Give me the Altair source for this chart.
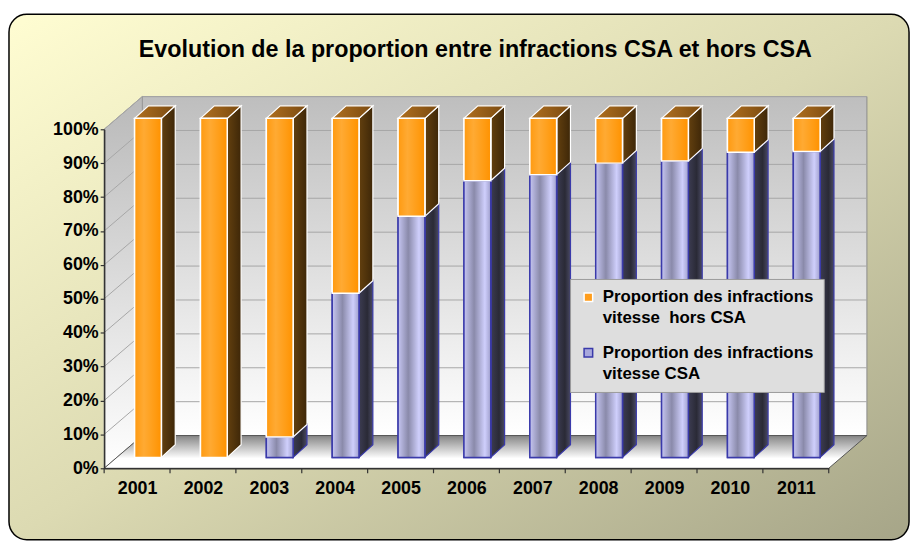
import altair as alt
import pandas as pd

# ---------------- data ----------------
years = [2001, 2002, 2003, 2004, 2005, 2006, 2007, 2008, 2009, 2010, 2011]
csa_pct = [0.0, 0.0, 6.0, 48.4, 71.1, 81.6, 83.4, 86.8, 87.4, 90.0, 90.2]
serie_hors = "Proportion des infractions|vitesse\u00a0\u00a0hors CSA"
serie_csa = "Proportion des infractions|vitesse CSA"
series = [serie_hors, serie_csa]
y_ticks = [0, 10, 20, 30, 40, 50, 60, 70, 80, 90, 100]
title_text = "Evolution de la proportion entre infractions CSA et hors CSA"

# ---------------- geometry (pixels) ----------------
FONT = "Liberation Sans"
W, H = 731, 342
PXY = W / len(years)      # px per year
PXP = H / 100.0           # px per percent
WALL_DX, WALL_DY = 38.5, 33.0
BAR_DX, BAR_DY = 11.0, 11.0
BAR_HW = 13.5
BAR_DEPTH_X, BAR_DEPTH_Y = 14.0, 12.7


def dx(p):
    return p / PXY


def dy(p):
    return p / PXP


X0, X1 = years[0] - 0.5, years[-1] + 0.5

# ---------------- tables ----------------
segs = []
for yr, c in zip(years, csa_pct):
    if c > 0:
        segs.append(dict(year=yr, serie=serie_csa, lo=0.0, hi=c))
    segs.append(dict(year=yr, serie=serie_hors, lo=c, hi=100.0))

front_rows, side_rows, top_rows = [], [], []
for s in segs:
    xa = s["year"] - dx(BAR_HW) + dx(BAR_DX)
    xb = s["year"] + dx(BAR_HW) + dx(BAR_DX)
    lo = s["lo"] + dy(BAR_DY)
    hi = s["hi"] + dy(BAR_DY)
    front_rows.append(dict(serie=s["serie"], x=xa, x2=xb, y=lo, y2=hi))
    key = f'{s["year"]}-{s["serie"]}'
    side_rows.append(dict(key=key, serie=s["serie"], x=xb, y=lo, y2=hi))
    side_rows.append(dict(key=key, serie=s["serie"], x=xb + dx(BAR_DEPTH_X),
                          y=lo + dy(BAR_DEPTH_Y), y2=hi + dy(BAR_DEPTH_Y)))
    if s["hi"] >= 100:
        ddx, ddy = dx(BAR_DEPTH_X), dy(BAR_DEPTH_Y)
        top_rows += [
            dict(key=key, x=xa, y=hi, y2=hi),
            dict(key=key, x=xa + ddx, y=hi, y2=hi + ddy),
            dict(key=key, x=xb, y=hi, y2=hi + ddy),
            dict(key=key, x=xb + ddx, y=hi + ddy, y2=hi + ddy),
        ]

front = pd.DataFrame(front_rows)
side = pd.DataFrame(side_rows)
top = pd.DataFrame(top_rows)

WX, WY = dx(WALL_DX), dy(WALL_DY)
back_wall = pd.DataFrame([dict(x=X0 + WX, x2=X1 + WX, y=WY, y2=100 + WY)])
back_grid = pd.DataFrame([dict(x=X0 + WX, x2=X1 + WX, y=v + WY) for v in y_ticks[1:]])
left_wall = pd.DataFrame([dict(x=X0, y=0, y2=100), dict(x=X0 + WX, y=WY, y2=100 + WY)])
left_grid = pd.DataFrame([dict(x=X0, x2=X0 + WX, y=v, y2=v + WY) for v in y_ticks[1:]])
floor = pd.DataFrame([
    dict(x=X0, y=0, y2=0),
    dict(x=X0 + WX, y=0, y2=WY),
    dict(x=X1, y=0, y2=WY),
    dict(x=X1 + WX, y=WY, y2=WY),
])
xticks = pd.DataFrame([dict(x=yr - 0.5, y=0) for yr in years + [years[-1] + 1]])

# ---------------- scales / axes ----------------
xs = alt.Scale(domain=[X0, X1], nice=False, zero=False)
ys = alt.Scale(domain=[0, 100], nice=False, zero=False)
x_axis = alt.Axis(values=years, format="d", ticks=False, grid=False, title=None,
                  labelFont=FONT, labelFontSize=18, labelFontWeight="bold",
                  labelColor="black", labelPadding=11, labelFlush=False,
                  domainColor="#333333", domainWidth=1.5, zindex=1)
y_axis = alt.Axis(values=y_ticks, labelExpr="datum.value + '%'", grid=False, title=None,
                  labelFont=FONT, labelFontSize=18, labelFontWeight="bold",
                  labelColor="black", labelPadding=2, tickSize=4, tickColor="#333333",
                  tickWidth=1.2, domainColor="#333333", domainWidth=1.5, zindex=1)


def X(f):
    return alt.X(f, type="quantitative", scale=xs, axis=x_axis)


def Y(f):
    return alt.Y(f, type="quantitative", scale=ys, axis=y_axis, stack=None)


def grad(stops, vertical=False):
    return alt.Gradient(
        gradient="linear",
        stops=[alt.GradientStop(color=c, offset=o) for o, c in stops],
        x1=0, y1=0, x2=0 if vertical else 1, y2=1 if vertical else 0,
    )


# ---------------- layers ----------------
bg = alt.Chart(pd.DataFrame({"a": [0]})).mark_rect(
    fill=alt.Gradient(gradient="linear",
                      stops=[alt.GradientStop(color="#FFFDD2", offset=0),
                             alt.GradientStop(color="#DCDAB2", offset=0.5),
                             alt.GradientStop(color="#A6A588", offset=1)],
                      x1=0, y1=0, x2=1, y2=1),
    stroke="black", strokeWidth=1.5, cornerRadius=18,
).encode(x=alt.value(-96), x2=alt.value(812), y=alt.value(-116), y2=alt.value(414))

back = alt.Chart(back_wall).mark_rect(
    fill=grad([(0, "#BEBEBE"), (1, "#FFFFFF")], vertical=True),
    stroke="#8C8C8C", strokeWidth=1,
).encode(x=X("x"), x2="x2", y=Y("y"), y2="y2")

bgrid = alt.Chart(back_grid).mark_rule(color="#A6A6A6", strokeWidth=1).encode(
    x=X("x"), x2="x2", y=Y("y"))

lwall = alt.Chart(left_wall).mark_area(
    fill=grad([(0, "#B9B9B9"), (1, "#FFFFFF")], vertical=True),
    stroke="#999999", strokeWidth=1,
).encode(x=X("x"), y=Y("y"), y2="y2")

lgrid = alt.Chart(left_grid).mark_rule(color="#A6A6A6", strokeWidth=1).encode(
    x=X("x"), x2="x2", y=Y("y"), y2="y2")

flr = alt.Chart(floor).mark_area(
    fill=grad([(0, "#858585"), (0.7, "#FFFFFF"), (1, "#FFFFFF")], vertical=True),
    stroke="#555555", strokeWidth=1,
).encode(x=X("x"), y=Y("y"), y2="y2")

ticks = alt.Chart(xticks).mark_rule(color="#333333", strokeWidth=1.2, y2Offset=5).encode(
    x=X("x"), y=Y("y"), y2="y")

side_csa = alt.Chart(side).transform_filter(alt.datum.serie == serie_csa).mark_area(
    fill=grad([(0, "#3C3C52"), (0.6, "#2A2A36"), (1, "#4A4A64")]),
    stroke="#3A3AAA", strokeWidth=1.2,
).encode(x=X("x"), y=Y("y"), y2="y2", detail="key:N")

side_hors = alt.Chart(side).transform_filter(alt.datum.serie == serie_hors).mark_area(
    fill=grad([(0, "#63400F"), (1, "#3E2708")]),
    stroke="white", strokeWidth=1.2,
).encode(x=X("x"), y=Y("y"), y2="y2", detail="key:N")

tops = alt.Chart(top).mark_area(
    fill=grad([(0, "#B07020"), (1, "#7A4A10")]),
    stroke="white", strokeWidth=1.2,
).encode(x=X("x"), y=Y("y"), y2="y2", detail="key:N")

legend = alt.Legend(
    orient="none", legendX=470, legendY=151, title=None,
    labelExpr="split(datum.label, '|')",
    labelFont=FONT, labelFontSize=17, labelFontWeight="bold", labelColor="black",
    labelLimit=400, labelOffset=6,
    symbolType="square", symbolSize=75, symbolStrokeWidth=1.5,
    padding=10, fillColor="#DEDEDE", strokeColor="#9A9A9A",
    rowPadding=17, zindex=2,
)

front_flat = alt.Chart(front).mark_rect(strokeWidth=1.5).encode(
    x=X("x"), x2="x2", y=Y("y"), y2="y2",
    color=alt.Color("serie:N", scale=alt.Scale(domain=series, range=["#FF9D1C", "#A8A8DC"]),
                    legend=legend),
    stroke=alt.Stroke("serie:N", scale=alt.Scale(domain=series, range=["#FFFFFF", "#3A3AAA"]),
                      legend=legend),
)

front_csa = alt.Chart(front).transform_filter(alt.datum.serie == serie_csa).mark_rect(
    fill=grad([(0, "#C6C6F2"), (0.38, "#8A8AAA"), (0.78, "#CFCFFC"), (1, "#A0A0CC")]),
    stroke="#3A3AAA", strokeWidth=1.5,
).encode(x=X("x"), x2="x2", y=Y("y"), y2="y2")

front_hors = alt.Chart(front).transform_filter(alt.datum.serie == serie_hors).mark_rect(
    fill=grad([(0, "#FF9A10"), (0.35, "#FFAA33"), (0.75, "#FF9C14"), (1, "#FF9200")]),
    stroke="#FFFFFF", strokeWidth=1.5,
).encode(x=X("x"), x2="x2", y=Y("y"), y2="y2")

chart = alt.layer(
    bg, back, bgrid, lwall, lgrid, flr, ticks,
    side_csa, side_hors, tops, front_flat, front_csa, front_hors,
).properties(
    width=W, height=H,
    title=alt.TitleParams(text=title_text, font=FONT, fontSize=23.5, fontWeight="bold",
                          color="black", anchor="middle", dx=9, dy=48, offset=0),
    padding={"left": 97, "top": 120, "right": 85, "bottom": 71},
    autosize=alt.AutoSizeParams(type="none"),
).configure(
    view=alt.ViewConfig(stroke=None),
    style={"guide-label": {"lineHeight": 21}},
)

chart.save("out.html", embed_options={"renderer": "svg", "actions": False})
